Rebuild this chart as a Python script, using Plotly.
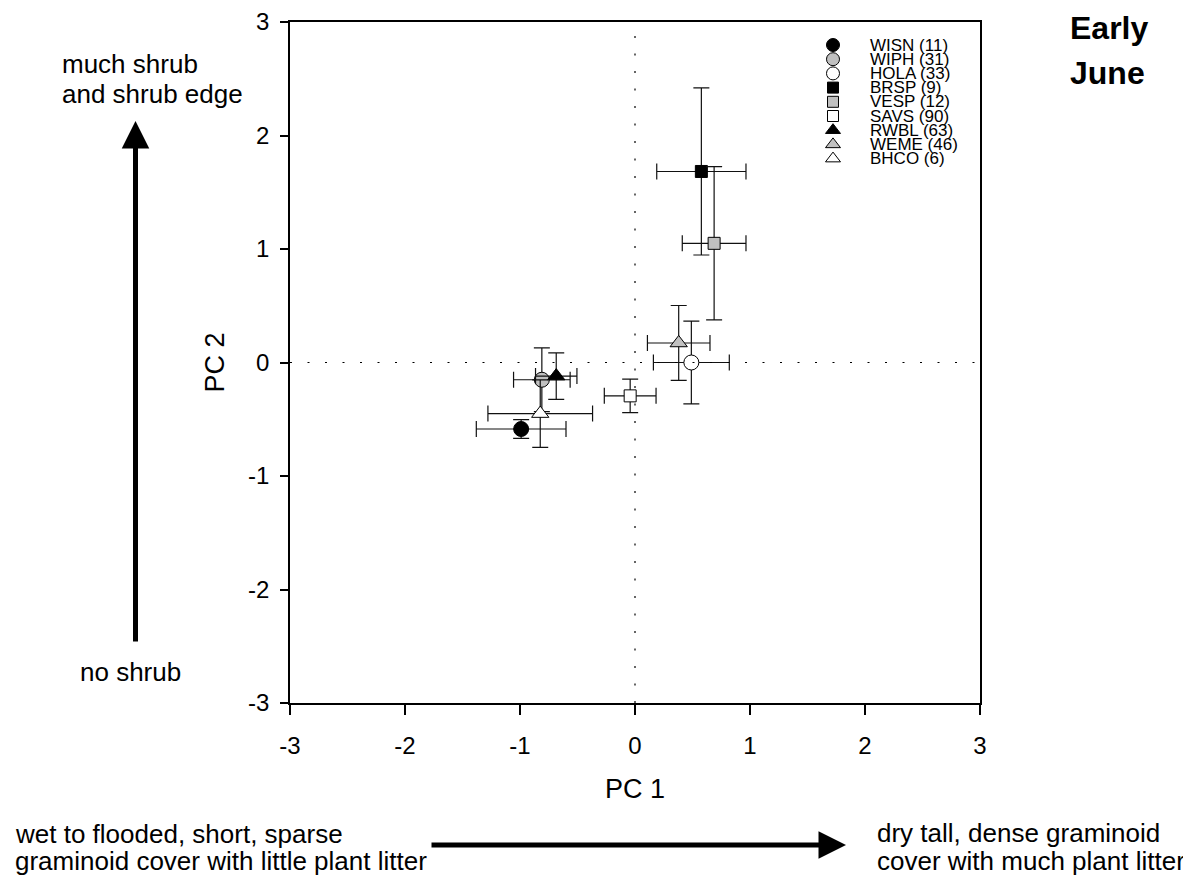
import plotly.graph_objects as go

# ---------------- data ----------------
species = ["WISN (11)", "WIPH (31)", "HOLA (33)", "BRSP (9)", "VESP (12)",
           "SAVS (90)", "RWBL (63)", "WEME (46)", "BHCO (6)"]
pc1 = [-0.99, -0.81, 0.49, 0.577, 0.688, -0.042, -0.685, 0.38, -0.824]
pc1_err = [0.39, 0.246, 0.33, 0.388, 0.277, 0.225, 0.18, 0.272, 0.455]
pc2 = [-0.586, -0.152, 0.0, 1.683, 1.05, -0.294, -0.12, 0.172, -0.45]
pc2_err = [0.083, 0.28, 0.365, 0.736, 0.675, 0.148, 0.205, 0.33, 0.297]

tick_vals = [-3, -2, -1, 0, 1, 2, 3]
tick_text = ["-3", "-2", "-1", "0", "1", "2", "3"]

# ---------------- styles ----------------
symbols = ["circle", "circle", "circle", "square", "square", "square",
           "triangle-up", "triangle-up", "triangle-up"]
fills = ["black", "#c0c0c0", "white"] * 3
msize = {"circle": 15, "square": 12, "triangle-up": 15}
leg_msize = {"circle": 13, "square": 11, "triangle-up": 13}

FONT = "Arial, 'Liberation Sans', sans-serif"
W, H = 1191, 878
OFF = 8                              # page body margin
PL, PT, PR, PB = 290, 22, 980, 703   # plot area as seen on the page


def px_x(p):
    return (p - PL) / (PR - PL)


def px_y(p):
    return (PB - p) / (PB - PT)


fig = go.Figure()

for i, name in enumerate(species):
    fig.add_trace(go.Scatter(
        x=[pc1[i]], y=[pc2[i]], name=name, mode="markers",
        marker=dict(symbol=symbols[i], size=msize[symbols[i]], color=fills[i],
                    line=dict(color="black", width=1)),
        error_x=dict(type="data", array=[pc1_err[i]], color="#111",
                     thickness=1.2, width=8),
        error_y=dict(type="data", array=[pc2_err[i]], color="#111",
                     thickness=1.2, width=8),
        showlegend=False,
    ))

# ---------------- legend (drawn in pixel-unit overlay axes) ----------------
LEG_MX, LEG_TX, LEG_Y0, LEG_DY = 833 - PL, 868 - PL, 45 - PT, 14.2
for i, name in enumerate(species):
    fig.add_trace(go.Scatter(
        x=[LEG_MX], y=[LEG_Y0 + i * LEG_DY], xaxis="x2", yaxis="y2",
        mode="markers", showlegend=False, hoverinfo="skip",
        marker=dict(symbol=symbols[i], size=leg_msize[symbols[i]], color=fills[i],
                    line=dict(color="black", width=1)),
    ))
annotations = []
for i, name in enumerate(species):
    annotations.append(dict(
        x=LEG_TX, y=LEG_Y0 + i * LEG_DY, xref="x2", yref="y2",
        text=name, showarrow=False, xanchor="left", yanchor="middle",
        font=dict(size=17, color="black", family=FONT)))

# ---------------- zero lines ----------------
shapes = [
    dict(type="line", xref="x", yref="paper", x0=0, x1=0, y0=0, y1=1,
         line=dict(color="black", width=1.2, dash="2px,15.5px")),
    dict(type="line", xref="paper", yref="y", x0=0, x1=1, y0=0, y1=0,
         line=dict(color="black", width=1.2, dash="2px,15.5px")),
]


def txt(text, x, y, size=26, bold=False, xanchor="left"):
    return dict(x=px_x(x), y=px_y(y), xref="paper", yref="paper", text=text,
                showarrow=False, xanchor=xanchor, yanchor="middle",
                font=dict(size=size, color="black", family=FONT,
                          weight="bold" if bold else "normal"))


annotations += [
    txt("much shrub", 60, 64),
    txt("and shrub edge", 60, 94),
    txt("no shrub", 130, 672, xanchor="center"),
    txt("Early", 1068, 28, size=32, bold=True),
    txt("June", 1068, 73, size=32, bold=True),
    txt("wet to flooded, short, sparse", 13, 834),
    txt("graminoid cover with little plant litter", 13, 861),
    txt("dry tall, dense graminoid", 875, 833),
    txt("cover with much plant litter", 875, 861),
    # arrows
    dict(x=px_x(135.5), y=px_y(121), xref="paper", yref="paper",
         axref="pixel", ayref="pixel", ax=0, ay=522, text="", showarrow=True,
         arrowhead=2, arrowwidth=5, arrowsize=1.1, arrowcolor="black", standoff=0),
    dict(x=px_x(846), y=px_y(845), xref="paper", yref="paper",
         axref="pixel", ayref="pixel", ax=-416, ay=0, text="", showarrow=True,
         arrowhead=2, arrowwidth=5, arrowsize=1.1, arrowcolor="black", standoff=0),
]

axis_common = dict(
    range=[-3, 3], tickvals=tick_vals, ticktext=tick_text,
    showgrid=False, zeroline=False, showline=True, linecolor="black",
    linewidth=1.5, mirror=True, ticks="outside", tickcolor="black",
    tickwidth=1.5, tickfont=dict(size=24, color="black", family=FONT),
    automargin=False,
)

fig.update_layout(
    width=W, height=H,
    margin=dict(l=PL - OFF, r=W - (PR - OFF), t=PT - OFF, b=H - (PB - OFF)),
    paper_bgcolor="white", plot_bgcolor="white",
    font=dict(family=FONT, color="black"),
    xaxis=dict(**axis_common, ticklen=10, ticklabelstandoff=10,
               title=dict(text="PC 1", font=dict(size=27, color="black", family=FONT),
                          standoff=22)),
    yaxis=dict(**axis_common, ticklen=8, ticklabelstandoff=6,
               title=dict(text="PC 2", font=dict(size=27, color="black", family=FONT),
                          standoff=16)),
    xaxis2=dict(domain=[0, 1], anchor="y2", overlaying="x", range=[0, PR - PL],
                visible=False, fixedrange=True),
    yaxis2=dict(anchor="x2", overlaying="y", range=[PB - PT, 0],
                visible=False, fixedrange=True),
    shapes=shapes,
    annotations=annotations,
    showlegend=False,
)

fig.write_html("out.html")
